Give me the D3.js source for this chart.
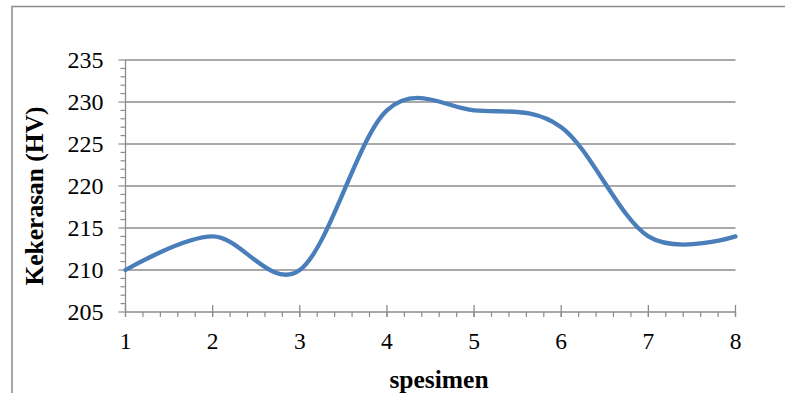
<!DOCTYPE html>
<html><head><meta charset="utf-8">
<script src="https://cdn.jsdelivr.net/npm/d3@7"></script>
<style>body{margin:0;background:#fff}svg{display:block}</style>
</head><body>
<svg id="c" width="785" height="393"></svg>
<script>
const specimens = [1, 2, 3, 4, 5, 6, 7, 8];
const hardness = [210, 214, 210, 229, 229, 227, 214, 214];
const yTicks = [205, 210, 215, 220, 225, 230, 235];
const xTicks = [1, 2, 3, 4, 5, 6, 7, 8];
const xTitle = "spesimen";
const yTitle = "Kekerasan (HV)";

const svg = d3.select("#c");
const L = 125.5, R = 735.5, T = 60, B = 312;
const x = d3.scaleLinear().domain([1, 8]).range([L, R]);
const y = d3.scaleLinear().domain([205, 235]).range([B, T]);
const font = "'Liberation Serif','Times New Roman',serif";

// outer frame
svg.append("path").attr("d", "M12,400 V6.5 H790")
  .attr("fill", "none").attr("stroke", "#8a8a8a").attr("stroke-width", 1.5);

// gridlines
svg.append("g").selectAll("line").data(yTicks.slice(1)).join("line")
  .attr("x1", L).attr("x2", R).attr("y1", d => y(d)).attr("y2", d => y(d))
  .attr("stroke", "#8c8c8c").attr("stroke-width", 1.3);

// y minor ticks
const yMinor = d3.range(205, 235.01, 1);
svg.append("g").selectAll("line").data(yMinor).join("line")
  .attr("x1", d => (d % 5 === 0) ? L - 7 : L - 5).attr("x2", L)
  .attr("y1", d => y(d)).attr("y2", d => y(d))
  .attr("stroke", "#8c8c8c").attr("stroke-width", 1.2);

// x minor ticks
const xMinor = d3.range(1, 8.001, 0.2);
svg.append("g").selectAll("line").data(xMinor).join("line")
  .attr("x1", d => x(d)).attr("x2", d => x(d))
  .attr("y1", B).attr("y2", B + 5)
  .attr("stroke", "#8c8c8c").attr("stroke-width", 1.2);
// x major ticks
svg.append("g").selectAll("line").data(xTicks).join("line")
  .attr("x1", d => x(d)).attr("x2", d => x(d))
  .attr("y1", B - 7).attr("y2", B + 5)
  .attr("stroke", "#8c8c8c").attr("stroke-width", 1.3);

// axis lines
svg.append("line").attr("x1", L).attr("x2", L).attr("y1", T).attr("y2", B)
  .attr("stroke", "#8c8c8c").attr("stroke-width", 1.3);
svg.append("line").attr("x1", L).attr("x2", R).attr("y1", B).attr("y2", B)
  .attr("stroke", "#8c8c8c").attr("stroke-width", 1.3);

// y labels
svg.append("g").selectAll("text").data(yTicks).join("text")
  .attr("x", 103.5).attr("y", d => y(d) + 8)
  .attr("text-anchor", "end").attr("font-family", font).attr("font-size", 24)
  .attr("fill", "#000").text(d => d);

// x labels
svg.append("g").selectAll("text").data(xTicks).join("text")
  .attr("x", d => x(d)).attr("y", 348.5)
  .attr("text-anchor", "middle").attr("font-family", font).attr("font-size", 23.5)
  .attr("fill", "#000").text(d => d);

// titles
svg.append("text").attr("x", 439).attr("y", 388).attr("text-anchor", "middle")
  .attr("font-family", font).attr("font-size", 25.5).attr("font-weight", "bold").text(xTitle);
svg.append("text").attr("transform", "translate(43,196) rotate(-90)").attr("text-anchor", "middle")
  .attr("font-family", font).attr("font-size", 25.5).attr("font-weight", "bold").text(yTitle);

// line
const line = d3.line().x((d, i) => x(specimens[i])).y(d => y(d)).curve(d3.curveCardinal.tension(0));
svg.append("path").datum(hardness).attr("d", line)
  .attr("fill", "none").attr("stroke", "#4a7ebb").attr("stroke-width", 4.3)
  .attr("stroke-linecap", "round").attr("stroke-linejoin", "round");
</script>
</body></html>
